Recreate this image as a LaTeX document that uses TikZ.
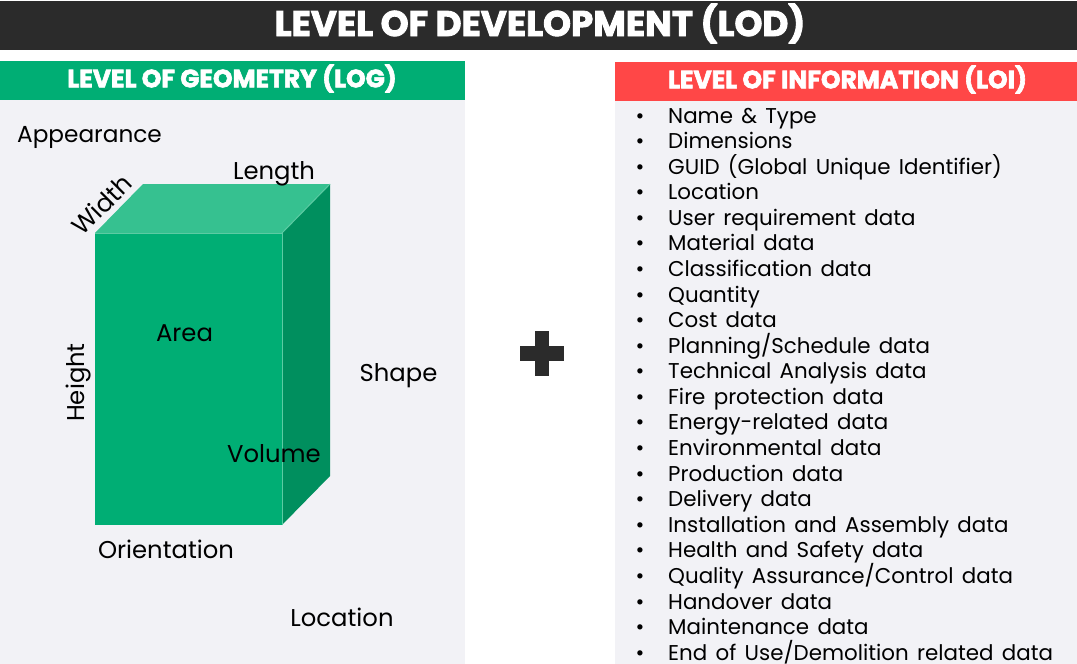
\documentclass[tikz,border=0pt]{standalone}
\usepackage{fontspec}
\setmainfont{Poppins}
\newfontfamily\heavy[UprightFont={* Bold},FakeBold=2.5]{Poppins}
\newfontfamily\listfont[WordSpace=1.45]{Poppins}
\definecolor{barc}{HTML}{2B2B2B}
\definecolor{greenh}{HTML}{00AE74}
\definecolor{redh}{HTML}{FF4747}
\definecolor{panelc}{HTML}{F2F2F6}
\definecolor{topc}{HTML}{36C190}
\definecolor{sidec}{HTML}{008F5E}
\definecolor{edgec}{HTML}{5CCBA3}
\tikzset{
  x=1pt,y=-1pt,
  lbl/.style={font=\fontsize{24.3}{26}\selectfont,text=black,inner sep=0pt,anchor=center},
  item/.style={font=\listfont\fontsize{21.4}{22}\selectfont,text=black,inner sep=0pt,anchor=base west},
  dotb/.style={font=\listfont\fontsize{21.4}{22}\selectfont,text=black,inner sep=0pt,anchor=base},
  head/.style={font=\heavy\fontsize{25}{26}\selectfont,text=white,inner sep=0pt,anchor=center},
}
\begin{document}
\begin{tikzpicture}
\useasboundingbox (0,0) rectangle (1077,664);
\fill[white] (0,0) rectangle (1077,664);
\fill[barc] (0,1) rectangle (1077,50);
\node[head,font=\heavy\fontsize{35.6}{38}\selectfont] (title) at (540,23.5) {LEVEL OF DEVELOPMENT (LOD)};
\fill[panelc] (0,100) rectangle (465,664);
\fill[greenh] (0,61) rectangle (465,100);
\node[head] (loghead) at (232,78.5) {LEVEL OF GEOMETRY (LOG)};
\fill[panelc] (615,100) rectangle (1077,664);
\fill[redh] (615,62) rectangle (1077,101);
\node[head] (loihead) at (847.5,79.5) {LEVEL OF INFORMATION (LOI)};
% cuboid
\fill[topc] (95,233) -- (143,184) -- (330,184) -- (282,233) -- cycle;
\fill[sidec] (282,233) -- (330,184) -- (330,476) -- (282,525) -- cycle;
\fill[greenh] (95,233) rectangle (282,525);
\draw[edgec,line width=1pt] (95,233) -- (282,233) -- (282,525);
\draw[edgec,line width=1pt] (282,233) -- (330,184);
% labels
\node[lbl,font=\fontsize{23.2}{26}\selectfont] (appearance) at (89.5,137) {Appearance};
\node[lbl] (length) at (274,174) {Length};
\node[lbl,rotate=45,font=\fontsize{25}{26}\selectfont] (width) at (101.5,204.5) {Width};
\node[lbl] (area) at (184.5,333) {Area};
\node[lbl,rotate=90] (height) at (79,382.5) {Height};
\node[lbl] (shape) at (398.5,376) {Shape};
\node[lbl] (volume) at (274,454) {Volume};
\node[lbl] (orientation) at (166,549) {Orientation};
\node[lbl] (location) at (342,617.5) {Location};
% plus
\fill[barc] (535,331) rectangle (549,376);
\fill[barc] (520,346) rectangle (564,361);
% list
\foreach \i/\t in {0/{Name \& Type},1/Dimensions,2/{GUID (Global Unique Identifier)},3/Location,4/{User requirement data},5/Material data,6/Classification data,7/Quantity,8/Cost data,9/{Planning/Schedule data},10/Technical Analysis data,11/Fire protection data,12/Energy-related data,13/Environmental data,14/Production data,15/Delivery data,16/Installation and Assembly data,17/Health and Safety data,18/{Quality Assurance/Control data},19/Handover data,20/Maintenance data,21/{End of Use/Demolition related data}}{
  \node[item] (li\i) at (668,{123+\i*25.58}) {\t};
  \node[dotb] (bu\i) at (640,{123+\i*25.58}) {•};
}
\end{tikzpicture}
\end{document}
